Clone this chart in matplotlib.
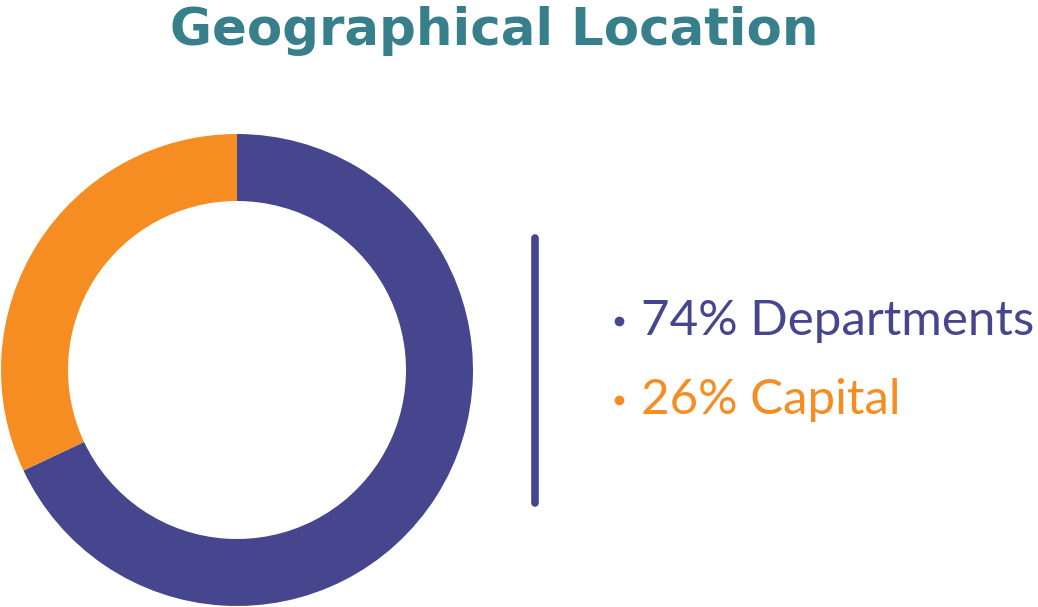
import matplotlib
matplotlib.use("Agg")
import matplotlib.pyplot as plt

# Data
categories = ["Departments", "Capital"]
pct_labels = [74, 26]          # percentages printed in the legend text
arc_shares = [68, 32]          # shares as drawn in the donut
colors = ["#45468E", "#F68D22"]
title = "Geographical Location"
title_color = "#367F8B"

W, H = 1038, 607
fig = plt.figure(figsize=(W / 100, H / 100), dpi=100)
ax = fig.add_axes([0, 0, 1, 1])

# Donut
ax.pie(arc_shares, colors=colors, startangle=90, counterclock=False,
       radius=236, center=(237, H - 370),
       wedgeprops=dict(width=67, linewidth=0), frame=True)
ax.set_xlim(0, W)
ax.set_ylim(0, H)
ax.set_aspect("equal")
ax.axis("off")

# Vertical divider
ax.plot([535, 535], [H - 238, H - 503], color=colors[0], lw=5.5,
        solid_capstyle="round")

# Legend text
ys = [H - 321, H - 400]
for y, p, c, col in zip(ys, pct_labels, categories, colors):
    ax.plot([619], [y], marker="o", ms=7, color=col, mec="none")
    ax.text(641, y, f"{p}% {c}", color=col, fontsize=35.5, family="Lato",
            fontweight="normal", va="center", ha="left")

# Title
fig.text(494 / W, 1 - 31 / H, title, color=title_color, fontsize=37,
         fontweight="bold", family="DejaVu Sans", ha="center", va="center")

fig.savefig("out.png", dpi=100)
